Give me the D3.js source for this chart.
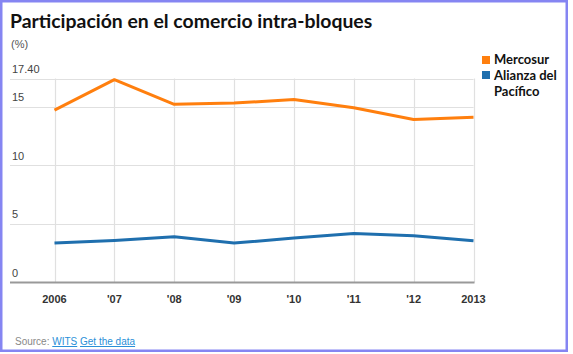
<!DOCTYPE html>
<html>
<head>
<meta charset="utf-8">
<script src="https://cdn.jsdelivr.net/npm/d3@7"></script>
<style>
  body { margin: 0; background: #fff; }
  svg { display: block; }
</style>
</head>
<body>
<div id="chart"></div>
<script>
const years = [2006, 2007, 2008, 2009, 2010, 2011, 2012, 2013]
const yearLabels = ["2006", "'07", "'08", "'09", "'10", "'11", "'12", "2013"]
const mercosur = [14.7, 17.3, 15.2, 15.3, 15.6, 14.9, 13.9, 14.1]
const alianza = [3.36, 3.58, 3.9, 3.36, 3.8, 4.18, 3.98, 3.56]
const yTicks = [0, 5, 10, 15, 17.4]
const yTickLabels = ["0", "5", "10", "15", "17.40"]
const seriesNames = ["Mercosur", "Alianza del Pacífico"]
const seriesColors = ["#ff7f0e", "#1f6fae"]

const width = 573
const height = 354
const plot = { left: 10, right: 473.5, top: 78.5, bottom: 282.5 }

const svg = d3.select("#chart")
	.append("svg")
	.attr("width", width)
	.attr("height", height)

// frame
svg.append("rect")
	.attr("x", 1.25)
	.attr("y", 1.25)
	.attr("width", 565.5)
	.attr("height", 349.5)
	.attr("fill", "#fff")
	.attr("stroke", "#8585f2")
	.attr("stroke-width", 2.5)

svg.append("text")
	.attr("x", 10)
	.attr("y", 27.5)
	.style("font-family", "Lato, 'Open Sans', sans-serif")
	.style("font-weight", "bold")
	.style("font-size", "19.4px")
	.attr("fill", "#111")
	.text("Participación en el comercio intra-bloques")

svg.append("text")
	.attr("x", 11)
	.attr("y", 48)
	.style("font-family", "'Liberation Sans', Arial, sans-serif")
	.style("font-size", "11px")
	.attr("fill", "#555")
	.text("(%)")

const x = d3.scaleLinear()
	.domain([2006, 2013])
	.range([54.5, plot.right])

const y = d3.scaleLinear()
	.domain([0, 17.4])
	.range([plot.bottom, plot.top])

// horizontal gridlines
svg.append("g")
	.selectAll("line")
	.data(yTicks.filter((d) => d > 0))
	.join("line")
	.attr("x1", plot.left)
	.attr("x2", plot.right)
	.attr("y1", (d) => Math.round(y(d)) + 0.5)
	.attr("y2", (d) => Math.round(y(d)) + 0.5)
	.attr("stroke", "#e0e0e0")
	.attr("stroke-width", 1.2)

// vertical gridlines
svg.append("g")
	.selectAll("line")
	.data(years)
	.join("line")
	.attr("x1", (d) => Math.round(x(d)) + 0.5)
	.attr("x2", (d) => Math.round(x(d)) + 0.5)
	.attr("y1", plot.top)
	.attr("y2", plot.bottom)
	.attr("stroke", "#e0e0e0")
	.attr("stroke-width", 1.2)

// y labels
svg.append("g")
	.selectAll("text")
	.data(yTicks)
	.join("text")
	.attr("x", 12)
	.attr("y", (d) => y(d) - 5.5)
	.style("font-family", "'Liberation Sans', Arial, sans-serif")
	.style("font-size", "11px")
	.attr("fill", "#444")
	.text((d, i) => yTickLabels[i])

// baseline
svg.append("line")
	.attr("x1", plot.left)
	.attr("x2", plot.right + 1)
	.attr("y1", plot.bottom)
	.attr("y2", plot.bottom)
	.attr("stroke", "#999")
	.attr("stroke-width", 2)

// x labels
svg.append("g")
	.selectAll("text")
	.data(years)
	.join("text")
	.attr("x", (d) => x(d))
	.attr("y", 303)
	.attr("text-anchor", "middle")
	.style("font-family", "'Liberation Sans', Arial, sans-serif")
	.style("font-weight", "bold")
	.style("font-size", "11px")
	.attr("fill", "#333")
	.text((d, i) => yearLabels[i])

const line = d3.line()
	.x((d, i) => x(years[i]))
	.y((d) => y(d))

;[mercosur, alianza].forEach((values, i) => {
	svg.append("path")
		.datum(values)
		.attr("fill", "none")
		.attr("stroke", seriesColors[i])
		.attr("stroke-width", 3)
		.attr("stroke-linejoin", "round")
		.attr("d", line)
})

// legend
const legend = svg.append("g").attr("transform", "translate(482, 56)")
legend.append("rect")
	.attr("width", 8).attr("height", 8)
	.attr("fill", seriesColors[0])
legend.append("rect")
	.attr("y", 15).attr("width", 8).attr("height", 8)
	.attr("fill", seriesColors[1])
const legendText = legend.append("text")
	.style("font-family", "Lato, 'Open Sans', sans-serif")
	.style("font-weight", "bold")
	.style("font-size", "13px")
	.attr("fill", "#111")
legendText.append("tspan").attr("x", 12).attr("y", 8).text(seriesNames[0])
legendText.append("tspan").attr("x", 12).attr("y", 24).text("Alianza del")
legendText.append("tspan").attr("x", 12).attr("y", 40).text("Pacífico")

// source
const source = svg.append("text")
	.attr("x", 15)
	.attr("y", 345)
	.style("font-family", "'Liberation Sans', Arial, sans-serif")
	.style("font-size", "10px")
	.attr("fill", "#888")
source.append("tspan").text("Source: ")
source.append("tspan").attr("fill", "#2a8fd8").style("text-decoration", "underline").text("WITS")
source.append("tspan").text(" ")
source.append("tspan").attr("fill", "#2a8fd8").style("text-decoration", "underline").text("Get the data")
</script>
</body>
</html>
